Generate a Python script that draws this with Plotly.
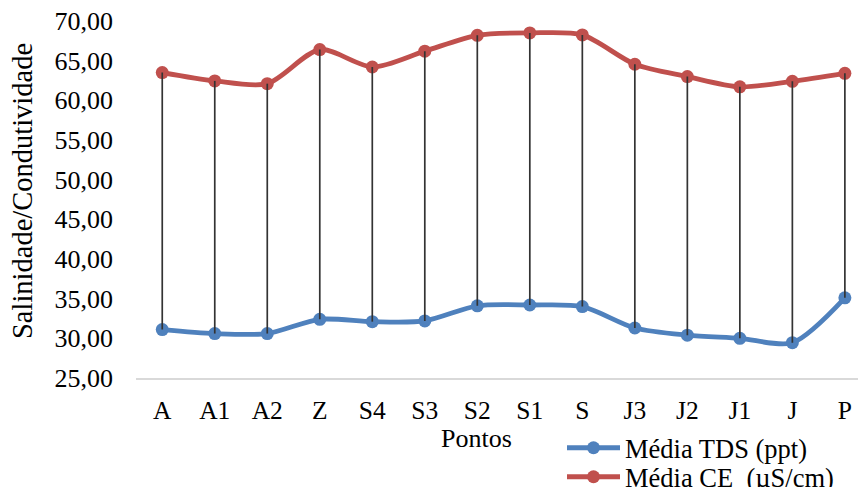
import plotly.graph_objects as go

categories = ["A", "A1", "A2", "Z", "S4", "S3", "S2", "S1", "S", "J3", "J2", "J1", "J", "P"]
tds = [31.1, 30.6, 30.6, 32.4, 32.1, 32.2, 34.1, 34.2, 34.0, 31.3, 30.4, 30.0, 29.45, 35.1]
ce = [63.5, 62.45, 62.1, 66.4, 64.2, 66.2, 68.2, 68.5, 68.25, 64.55, 63.0, 61.7, 62.4, 63.4]
y_ticks = [25, 30, 35, 40, 45, 50, 55, 60, 65, 70]

FONT = "Liberation Serif, Times New Roman, serif"
BLUE = "#4F81BD"
RED = "#C0504D"

idx = list(range(len(categories)))

fig = go.Figure()
fig.add_trace(go.Scatter(
    x=idx, y=tds, mode="lines+markers", name="Média TDS (ppt)",
    line=dict(color=BLUE, width=4.8, shape="spline", smoothing=0.8),
    marker=dict(color=BLUE, size=13), legend="legend",
))
fig.add_trace(go.Scatter(
    x=idx, y=ce, mode="lines+markers", name="Média CE  (µS/cm)",
    line=dict(color=RED, width=4.8, shape="spline", smoothing=0.8),
    marker=dict(color=RED, size=13), legend="legend2",
))

# high-low (drop) lines between the two series
dx, dy = [], []
for i, a, b in zip(idx, tds, ce):
    dx += [i, i, None]
    dy += [b, a, None]
fig.add_trace(go.Scatter(
    x=dx, y=dy, mode="lines", showlegend=False, hoverinfo="skip",
    line=dict(color="#333333", width=1.7),
))

L, T, W, H = 136, 21, 858, 487
B = 378
leg_common = dict(
    xref="container", yref="container",
    xanchor="left", yanchor="middle",
    font=dict(family=FONT, size=26.5, color="black"),
    bgcolor="rgba(0,0,0,0)", itemwidth=53,
    borderwidth=0,
)
fig.update_layout(
    width=W, height=H,
    margin=dict(l=L, r=0, t=T, b=H - B, autoexpand=False),
    paper_bgcolor="white", plot_bgcolor="white",
    font=dict(family=FONT, size=26, color="black"),
    separators=",.",
    showlegend=True,
    legend=dict(x=562 / W, y=1 - 448 / H, **leg_common),
    legend2=dict(x=562 / W, y=1 - 477 / H, **leg_common),
    xaxis=dict(
        tickmode="array", tickvals=idx, ticktext=categories,
        range=[-0.5, 13.25],
        showgrid=False, zeroline=False,
        showline=True, linecolor="#d9d9d9", linewidth=2,
        ticks="", ticklabelstandoff=8,
        tickfont=dict(family=FONT, size=25.5, color="black"),
    ),
    yaxis=dict(
        range=[25, 70], tickvals=y_ticks, tickformat=".2f",
        showgrid=False, zeroline=False, showline=False,
        ticks="", ticklabelstandoff=22,
        tickfont=dict(family=FONT, size=26, color="black"),
    ),
    annotations=[
        dict(text="Salinidade/Condutividade", textangle=-90,
             xref="paper", yref="paper",
             x=(22 - L) / (W - L), y=(B - 191) / (B - T),
             xanchor="center", yanchor="middle", showarrow=False,
             font=dict(family=FONT, size=28.5, color="black")),
        dict(text="Pontos", xref="paper", yref="paper",
             x=(476 - L) / (W - L), y=(B - 438) / (B - T),
             xanchor="center", yanchor="middle", showarrow=False,
             font=dict(family=FONT, size=26, color="black")),
    ],
)

fig.write_html("out.html")
